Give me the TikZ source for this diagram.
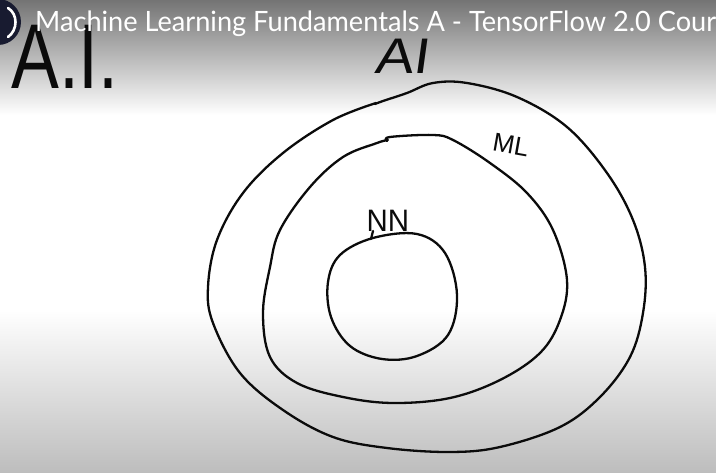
\documentclass[tikz,border=0pt]{standalone}
\usepackage{fontspec}
\setmainfont{Liberation Sans}
\newfontfamily\titlefont{Lato}
\definecolor{ink}{HTML}{0B0B0B}
\definecolor{topgray}{HTML}{747474}
\definecolor{botgray}{HTML}{BDBDBD}
\definecolor{avatar}{HTML}{181B30}

\begin{document}
\begin{tikzpicture}[x=1pt, y=-1pt,
    pen/.style={draw=ink, line width=2.3pt, line cap=round, line join=round},
    hand/.style={text=ink, inner sep=0pt, font=\fontsize{#1}{#1}\selectfont}]
  \useasboundingbox (0,0) rectangle (716,473);
  \clip (0,0) rectangle (716,473);
  \fill[white] (0,0) rectangle (716,473);
  \shade[top color=topgray, bottom color=white] (0,0) rectangle (716,115);
  \shade[top color=white, bottom color=botgray] (0,310) rectangle (716,473);

  % outer loop (AI)
  \draw[pen] plot[smooth, tension=0.6] coordinates {
    (375,104) (383,101) (407,93) (433,83) (467,83) (517,97) (567,127)
    (607,173) (633,220) (645,267) (643,313) (630,357) (600,397) (560,427)
    (500,447) (450,452) (387,448) (333,437) (283,410) (240,373) (213,323)
    (208,287) (217,240) (243,193) (283,153) (333,120) (376,103)};
  % middle loop (ML)
  \draw[pen] plot[smooth, tension=0.6] coordinates {
    (387,141) (390,137) (433,135) (453,140) (490,163) (527,193) (553,230)
    (567,280) (560,320) (540,353) (500,380) (450,398) (393,403) (343,397)
    (297,383) (270,357) (263,313) (270,267) (280,230) (310,187) (343,157)
    (377,143) (388,140)};
  % inner loop (NN)
  \draw[pen] plot[smooth cycle, tension=0.6] coordinates {
    (373,238) (417,234) (445,253) (457,295) (448,335) (417,356) (382,359)
    (350,346) (331,317) (328,282) (340,255)};
  \draw[pen] (371,239) -- (373,231);

  \node[hand=50, xscale=1.15, xslant=0.12] (ai) at (404,56) {AI};
  \node[hand=26, rotate=-10] (ml) at (511,145) {ML};
  \node[hand=31, xscale=0.95] (nn) at (388,221) {NN};
  \node[hand=92, xscale=0.78] (aidots) at (65,57) {A.I.};

  \fill[avatar] (-2,22) circle (23);
  \draw[white, line width=2.6pt, line cap=round] (8,8) .. controls (18,14) and (18,30) .. (8,37);
  \node[anchor=west, text=white, inner sep=0pt, xscale=0.97, font=\titlefont\fontsize{28}{28}\selectfont]
    (title) at (35,24) {Machine Learning Fundamentals A - TensorFlow 2.0 Cour};
\end{tikzpicture}
\end{document}
